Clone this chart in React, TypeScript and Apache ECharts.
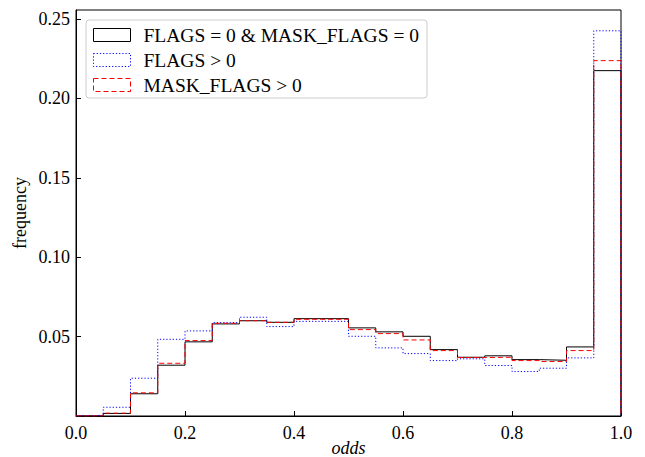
import React, { useEffect, useRef } from "react";
import * as echarts from "echarts";

const binEdges = [0, 0.05, 0.1, 0.15, 0.2, 0.25, 0.3, 0.35, 0.4, 0.45, 0.5, 0.55, 0.6, 0.65, 0.7, 0.75, 0.8, 0.85, 0.9, 0.95, 1.0];
const cleanFreq = [0.0, 0.0016, 0.014, 0.032, 0.0467, 0.058, 0.060, 0.059, 0.0613, 0.0613, 0.0555, 0.053, 0.0502, 0.0418, 0.037, 0.0379, 0.0355, 0.0351, 0.0435, 0.2175];
const flagsFreq = [0.0004, 0.0055, 0.0238, 0.0483, 0.0536, 0.0588, 0.0622, 0.0563, 0.0596, 0.0596, 0.0502, 0.0429, 0.0393, 0.0349, 0.036, 0.0318, 0.028, 0.0301, 0.0366, 0.2426];
const maskFreq = [0.0, 0.0018, 0.0146, 0.0332, 0.0475, 0.0584, 0.060, 0.059, 0.0609, 0.0609, 0.0544, 0.0519, 0.0479, 0.0412, 0.0368, 0.037, 0.0349, 0.0343, 0.0412, 0.2238];
const seriesNames = ["FLAGS = 0 & MASK_FLAGS = 0", "FLAGS > 0", "MASK_FLAGS > 0"];
const xTicks = [0, 0.2, 0.4, 0.6, 0.8, 1.0];
const yTicks = [0.05, 0.1, 0.15, 0.2, 0.25];

const FONT = "'Liberation Serif', 'DejaVu Serif', serif";

function stepData(vals: number[]) {
  const pts: number[][] = [[binEdges[0], 0]];
  for (let i = 0; i < vals.length; i++) pts.push([binEdges[i], vals[i]]);
  const last = vals[vals.length - 1];
  pts.push([binEdges[binEdges.length - 1], last]);
  pts.push([binEdges[binEdges.length - 1], 0]);
  return pts;
}

export default function App() {
  const ref = useRef<HTMLDivElement>(null);
  useEffect(() => {
    if (!ref.current) return;
    const chart = echarts.init(ref.current, undefined, { renderer: "svg" });
    const colors = ["#000000", "#0000ff", "#ff0000"];
    const dashes: any[] = ["solid", [1.2, 2], [5, 3]];
    const vals = [cleanFreq, flagsFreq, maskFreq];
    chart.setOption({
      animation: false,
      backgroundColor: "#ffffff",
      grid: {
        left: 76, right: 24, top: 10, bottom: 41,
        show: true, borderColor: "#000", borderWidth: 1, backgroundColor: "transparent",
        containLabel: false, outerBoundsMode: "none",
      },
      legend: {
        orient: "vertical",
        left: 86,
        top: 20,
        padding: [5, 8, 3, 7],
        itemWidth: 37,
        itemHeight: 13,
        itemGap: 5,
        icon: "rect",
        backgroundColor: "#ffffff",
        borderColor: "#cccccc",
        borderWidth: 1,
        borderRadius: 3,
        textStyle: { fontFamily: FONT, fontSize: 19.5, lineHeight: 18, color: "#000", padding: [0, 0, 0, 8] },
        data: seriesNames.map((n, i) => ({
          name: n,
          icon: "rect",
          itemStyle: { color: "rgba(255,255,255,0)", borderColor: colors[i], borderWidth: 1, borderType: dashes[i], opacity: 1 },
          textStyle: { color: "#000" },
        })),
      },
      xAxis: {
        type: "value",
        min: 0,
        max: 1,
        interval: 0.2,
        name: "odds",
        nameLocation: "middle",
        nameGap: 23,
        nameMoveOverlap: false,
        nameTextStyle: { fontFamily: FONT, fontSize: 18, lineHeight: 18, fontStyle: "italic", color: "#000", verticalAlign: "top" },
        axisLine: { show: true, lineStyle: { color: "#000", width: 1 } },
        axisTick: { show: true, inside: true, length: 5, lineStyle: { color: "#000" } },
        axisLabel: {
          fontFamily: FONT, fontSize: 18, color: "#000", margin: 8,
          formatter: (v: number) => {
            const t = xTicks.find((x) => Math.abs(x - v) < 1e-9);
            return t === undefined ? "" : t.toFixed(1);
          },
        },
        splitLine: { show: false },
      },
      yAxis: {
        type: "value",
        min: 0,
        max: 0.2557,
        interval: 0.05,
        name: "frequency",
        nameLocation: "middle",
        nameGap: 47,
        nameMoveOverlap: false,
        nameTextStyle: { fontFamily: FONT, fontSize: 18, color: "#000" },
        axisLine: { show: true, lineStyle: { color: "#000", width: 1 } },
        axisTick: { show: true, inside: true, length: 5, lineStyle: { color: "#000" } },
        axisLabel: {
          fontFamily: FONT, fontSize: 18, color: "#000", margin: 6,
          showMinLabel: false,
          showMaxLabel: false,
          formatter: (v: number) => {
            const t = yTicks.find((y) => Math.abs(y - v) < 1e-9);
            return t === undefined ? "" : t.toFixed(2);
          },
        },
        splitLine: { show: false },
      },
      series: vals.map((v, i) => ({
        name: seriesNames[i],
        type: "line",
        step: "end",
        symbol: "none",
        data: stepData(v),
        lineStyle: { color: colors[i], width: 1, type: dashes[i] },
        itemStyle: { color: colors[i] },
        z: 2 + i,
      })),
    });
    return () => chart.dispose();
  }, []);
  return <div ref={ref} style={{ width: 645, height: 457, position: "absolute", left: 0, top: 0 }} />;
}
